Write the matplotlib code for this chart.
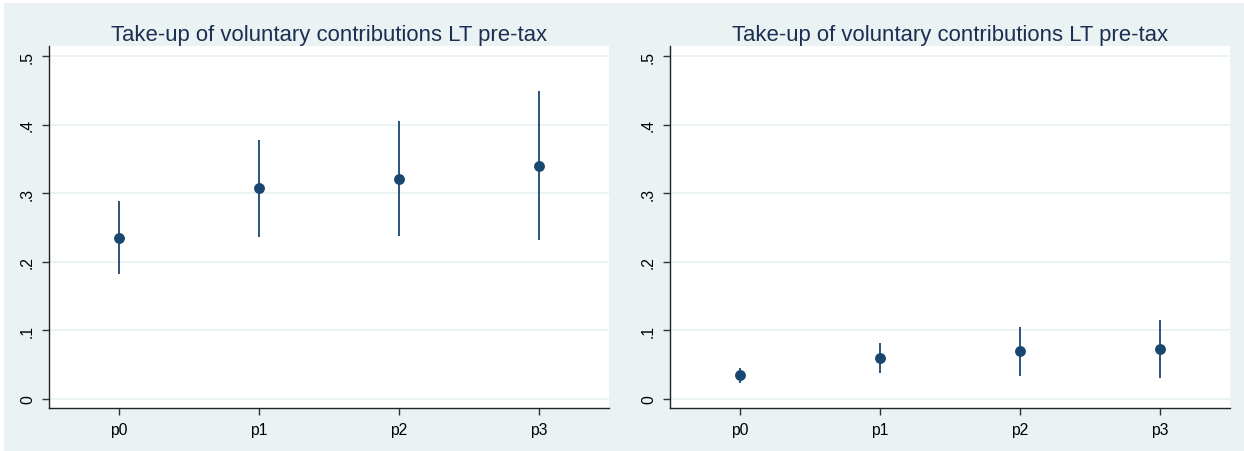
import matplotlib
matplotlib.use("Agg")
import matplotlib.pyplot as plt
from matplotlib.patches import Rectangle

plt.rcParams['font.family'] = ['Liberation Sans', 'DejaVu Sans']

categories = ["p0", "p1", "p2", "p3"]
title = "Take-up of voluntary contributions LT pre-tax"

left_est = [0.235, 0.307, 0.321, 0.340]
left_lo = [0.182, 0.236, 0.237, 0.232]
left_hi = [0.288, 0.378, 0.405, 0.449]

right_est = [0.034, 0.060, 0.0695, 0.072]
right_lo = [0.023, 0.038, 0.0335, 0.030]
right_hi = [0.045, 0.082, 0.105, 0.115]

yticks = [0, 0.1, 0.2, 0.3, 0.4, 0.5]
ytick_labels = ["0", ".1", ".2", ".3", ".4", ".5"]

W, H = 1244, 452
fig = plt.figure(figsize=(W / 100, H / 100), dpi=100)
fig.patch.set_facecolor("white")
bg = "#eaf2f3"
fig.patches.append(Rectangle((4 / W, 0), 1 - 4 / W, 1 - 4 / H, transform=fig.transFigure,
                             facecolor=bg, edgecolor="none", zorder=-10))

navy = "#1a476f"
title_color = "#1c2f52"


def panel(rect, est, lo, hi):
    ax = fig.add_axes(rect)
    ax.set_facecolor("white")
    x = list(range(len(categories)))
    ax.vlines(x, lo, hi, color=navy, lw=1.3, zorder=3)
    ax.plot(x, est, "o", color=navy, ms=6.8, zorder=4)
    ax.set_xlim(-0.5, 3.5)
    ax.set_ylim(-0.0135, 0.515)
    ax.set_xticks(x)
    ax.set_xticklabels(categories, fontsize=11.3)
    ax.set_yticks(yticks)
    ax.set_yticklabels(ytick_labels, fontsize=11.3, rotation=90, va="center")
    ax.grid(axis="y", color=bg, lw=1.3, zorder=0)
    ax.set_axisbelow(True)
    for s in ["top", "right"]:
        ax.spines[s].set_visible(False)
    for s in ["left", "bottom"]:
        ax.spines[s].set_color("#222222")
        ax.spines[s].set_linewidth(1.0)
    ax.tick_params(axis="both", direction="out", length=5, width=1.0, color="#333333",
                   labelcolor="black", pad=5)
    ax.set_title(title, fontsize=15.9, color=title_color, pad=4.5)
    return ax


ax_h = 362 / H
ax_b = (H - 409) / H
panel([49 / W, ax_b, 560 / W, ax_h], left_est, left_lo, left_hi)
panel([670 / W, ax_b, 560 / W, ax_h], right_est, right_lo, right_hi)

fig.savefig("out.png", dpi=100)
